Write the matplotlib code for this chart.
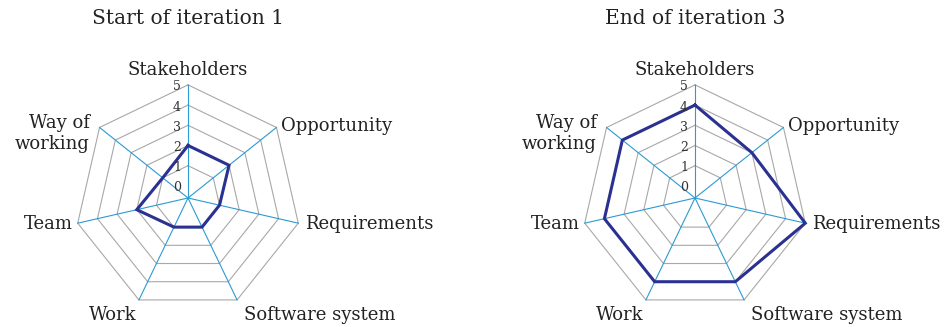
import numpy as np
import matplotlib.pyplot as plt

# essence alpha states
categories = ["Stakeholders", "Opportunity", "Requirements", "Software system",
              "Work", "Team", "Way of\nworking"]
start_iter1 = [2, 2, 1, 1, 1, 2, 1]
end_iter3 = [4, 3, 5, 4, 4, 4, 4]
levels = [0, 1, 2, 3, 4, 5]
titles = ["Start of iteration 1", "End of iteration 3"]

W, H = 949, 327
PX = 20.2      # pixels per level
OFF = 0.6      # the centre sits a bit below level 0
CY = 198       # centre height from the top, pixels
centres = [188, 695]

SPOKE = "#2b9ad3"
RING = "#a8a8a8"
LINE = "#2a3190"
TEXT = "#222222"

plt.rcParams["font.family"] = ["DejaVu Serif"]

n = len(categories)
angles = np.pi / 2 - np.arange(n) * 2 * np.pi / n
closed = np.append(angles, angles[0])

# offset of each category label from its spoke end (pixels) and alignment
label_pos = [((0, 6), "center", "bottom"),
             ((5, 1), "left", "center"),
             ((7, -1), "left", "center"),
             ((7, -15), "left", "center"),
             ((-2, -15), "right", "center"),
             ((-5, -1), "right", "center"),
             ((-10, -6), "right", "center")]


def radar(ax, cx, values, title):
    ax.set_xlim(-cx / PX, (W - cx) / PX)
    ax.set_ylim(-(H - CY) / PX, CY / PX)
    ax.set_aspect("equal")
    ax.axis("off")

    rmax = levels[-1] + OFF
    for lev in levels[1:]:
        r = lev + OFF
        ax.plot(r * np.cos(closed), r * np.sin(closed), color=RING, lw=0.8, zorder=1)
    for a in angles:
        ax.plot([0, rmax * np.cos(a)], [0, rmax * np.sin(a)], color=SPOKE, lw=0.8, zorder=2)

    r = np.append(values, values[0]) + OFF
    ax.plot(r * np.cos(closed), r * np.sin(closed), color=LINE, lw=2.2,
            solid_joinstyle="miter", zorder=3)

    for lev in levels:
        ax.text(-7 / PX, lev + OFF - 2 / PX, str(lev), ha="right", va="center",
                fontsize=9, color="#333333", zorder=4)

    for a, name, (off, ha, va) in zip(angles, categories, label_pos):
        ax.annotate(name, xy=(rmax * np.cos(a), rmax * np.sin(a)), xytext=off,
                    textcoords="offset pixels", ha=ha, va=va, fontsize=13,
                    color=TEXT, linespacing=1.25)

    ax.text(0, (CY - 19) / PX, title, ha="center", va="center", fontsize=14.5, color=TEXT)


fig = plt.figure(figsize=(W / 100, H / 100), dpi=100)
for cx, vals, title in zip(centres, [start_iter1, end_iter3], titles):
    ax = fig.add_axes([0, 0, 1, 1])
    ax.patch.set_alpha(0)
    radar(ax, cx, vals, title)

fig.savefig("out.png", dpi=100, facecolor="white")
